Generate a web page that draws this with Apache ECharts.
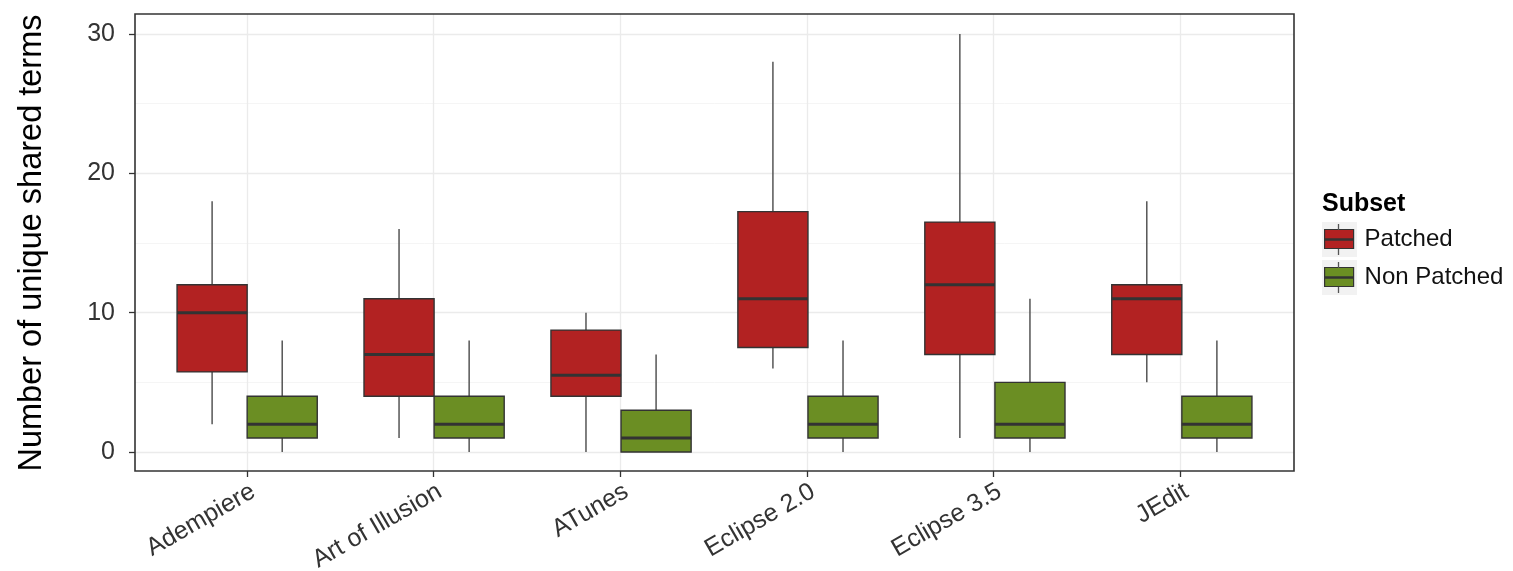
<!DOCTYPE html>
<html>
<head>
<meta charset="utf-8">
<script src="https://cdn.jsdelivr.net/npm/echarts@6/dist/echarts.min.js"></script>
<style>
html,body{margin:0;padding:0;background:#fff;}
#chart{width:1513px;height:571px;}
</style>
</head>
<body>
<div id="chart"></div>
<script>
// ---- data ----
const categories = ['Adempiere', 'Art of Illusion', 'ATunes', 'Eclipse 2.0', 'Eclipse 3.5', 'JEdit'];
// [lower whisker, Q1, median, Q3, upper whisker]
const patched = [
  [2, 5.75, 10, 12, 18],
  [1, 4, 7, 11, 16],
  [0, 4, 5.5, 8.75, 10],
  [6, 7.5, 11, 17.25, 28],
  [1, 7, 12, 16.5, 30],
  [5, 7, 11, 12, 18]
];
const nonPatched = [
  [0, 1, 2, 4, 8],
  [0, 1, 2, 4, 8],
  [0, 0, 1, 3, 7],
  [0, 1, 2, 4, 8],
  [0, 1, 2, 5, 11],
  [0, 1, 2, 4, 8]
];
const seriesNames = ['Patched', 'Non Patched'];
const yTicks = [0, 10, 20, 30];

// ---- style ----
const RED = '#B22222';
const GREEN = '#6B8E23';
const FONT = 'Liberation Sans, Arial, sans-serif';

function toItems(arr) {
  return arr.map((v, i) => [i].concat(v));
}

function boxRenderer(offset, fill) {
  return function (params, api) {
    const x = api.value(0) + offset;
    const pLow = api.coord([x, api.value(1)]);
    const pQ1 = api.coord([x, api.value(2)]);
    const pMed = api.coord([x, api.value(3)]);
    const pQ3 = api.coord([x, api.value(4)]);
    const pHigh = api.coord([x, api.value(5)]);
    const w = api.size([0.375, 0])[0];
    const cx = pMed[0];
    return {
      type: 'group',
      children: [
        { type: 'line', shape: { x1: cx, y1: pLow[1], x2: cx, y2: pQ1[1] }, style: { stroke: '#555', lineWidth: 1.5 } },
        { type: 'line', shape: { x1: cx, y1: pQ3[1], x2: cx, y2: pHigh[1] }, style: { stroke: '#555', lineWidth: 1.5 } },
        { type: 'rect', shape: { x: cx - w / 2, y: pQ3[1], width: w, height: pQ1[1] - pQ3[1] }, style: { fill: fill, stroke: '#333', lineWidth: 1.4 } },
        { type: 'line', shape: { x1: cx - w / 2, y1: pMed[1], x2: cx + w / 2, y2: pMed[1] }, style: { stroke: '#333', lineWidth: 3 } }
      ]
    };
  };
}

const chart = echarts.init(document.getElementById('chart'), null, { renderer: 'canvas' });

const option = {
  backgroundColor: '#fff',
  animation: false,
  textStyle: { fontFamily: FONT },
  title: {
    text: 'Subset',
    left: 1322,
    top: 192,
    padding: 0,
    textStyle: { fontFamily: FONT, fontSize: 25, fontWeight: 'bold', color: '#000' }
  },
  legend: {
    data: seriesNames,
    orient: 'vertical',
    left: 1324,
    top: 226,
    itemWidth: 29,
    itemHeight: 19,
    itemGap: 12,
    icon: 'rect',
    padding: 0,
    itemStyle: { borderColor: '#333', borderWidth: 1.2 },
    textStyle: { fontFamily: FONT, fontSize: 24, color: '#111', lineHeight: 26, padding: [0, 0, 0, 6] },
    selectedMode: false
  },
  grid: [
    { left: 135, width: 1159, top: 34, height: 418, outerBoundsMode: 'none', containLabel: false },
    { left: 247, width: 933, top: 14, height: 457, outerBoundsMode: 'none', containLabel: false }
  ],
  xAxis: [
    { type: 'value', gridIndex: 0, min: -0.6, max: 5.6, show: false },
    {
      type: 'category', gridIndex: 1, data: categories, boundaryGap: false,
      axisLine: { show: false },
      axisTick: { show: true, interval: 0, length: 6, lineStyle: { color: '#333', width: 1.3 } },
      axisLabel: { interval: 0, rotate: 30, margin: 8, verticalAlign: 'top', fontFamily: FONT, fontSize: 25, color: '#333' },
      splitLine: { show: true, interval: 0, lineStyle: { color: '#ebebeb', width: 1.3 } }
    }
  ],
  yAxis: [
    {
      type: 'value', gridIndex: 0, min: yTicks[0], max: yTicks[yTicks.length - 1], interval: 10,
      position: 'left',
      name: 'Number of unique shared terms',
      nameLocation: 'middle', nameRotate: 90, nameGap: 86,
      nameTextStyle: { fontFamily: FONT, fontSize: 32.5, color: '#000' },
      axisLine: { show: false, onZero: false },
      axisTick: { show: true, length: 6, lineStyle: { color: '#333', width: 1.3 } },
      axisLabel: { margin: 20, fontFamily: FONT, fontSize: 25, color: '#333' },
      splitLine: { show: true, lineStyle: { color: '#ebebeb', width: 1.3 } },
      minorTick: { show: false, splitNumber: 2 },
      minorSplitLine: { show: true, lineStyle: { color: '#f5f5f5', width: 1 } }
    },
    { type: 'value', gridIndex: 1, min: 0, max: 1, show: false }
  ],
  series: [
    {
      name: seriesNames[0], type: 'custom', xAxisIndex: 0, yAxisIndex: 0,
      itemStyle: { color: RED },
      encode: { x: 0, y: [1, 2, 3, 4, 5] },
      renderItem: boxRenderer(-0.1875, RED),
      data: toItems(patched), z: 3
    },
    {
      name: seriesNames[1], type: 'custom', xAxisIndex: 0, yAxisIndex: 0,
      itemStyle: { color: GREEN },
      encode: { x: 0, y: [1, 2, 3, 4, 5] },
      renderItem: boxRenderer(0.1875, GREEN),
      data: toItems(nonPatched), z: 3
    }
  ],
  graphic: [
    // panel border
    { type: 'rect', z: 20, silent: true, shape: { x: 135, y: 14, width: 1159, height: 457 }, style: { fill: null, stroke: '#333', lineWidth: 1.6 } },
    // legend key backgrounds
    { type: 'rect', z: -1, silent: true, shape: { x: 1322, y: 222, width: 35, height: 35 }, style: { fill: '#f2f2f2' } },
    { type: 'rect', z: -1, silent: true, shape: { x: 1322, y: 260, width: 35, height: 35 }, style: { fill: '#f2f2f2' } },
    // legend key whiskers & medians
    { type: 'line', z: 20, silent: true, shape: { x1: 1338.5, y1: 224, x2: 1338.5, y2: 230 }, style: { stroke: '#555', lineWidth: 1.3 } },
    { type: 'line', z: 20, silent: true, shape: { x1: 1338.5, y1: 249, x2: 1338.5, y2: 255 }, style: { stroke: '#555', lineWidth: 1.3 } },
    { type: 'line', z: 20, silent: true, shape: { x1: 1324, y1: 239.5, x2: 1353, y2: 239.5 }, style: { stroke: '#333', lineWidth: 2.5 } },
    { type: 'line', z: 20, silent: true, shape: { x1: 1338.5, y1: 262, x2: 1338.5, y2: 268 }, style: { stroke: '#555', lineWidth: 1.3 } },
    { type: 'line', z: 20, silent: true, shape: { x1: 1338.5, y1: 287, x2: 1338.5, y2: 293 }, style: { stroke: '#555', lineWidth: 1.3 } },
    { type: 'line', z: 20, silent: true, shape: { x1: 1324, y1: 277.5, x2: 1353, y2: 277.5 }, style: { stroke: '#333', lineWidth: 2.5 } }
  ]
};

chart.setOption(option);
</script>
</body>
</html>
